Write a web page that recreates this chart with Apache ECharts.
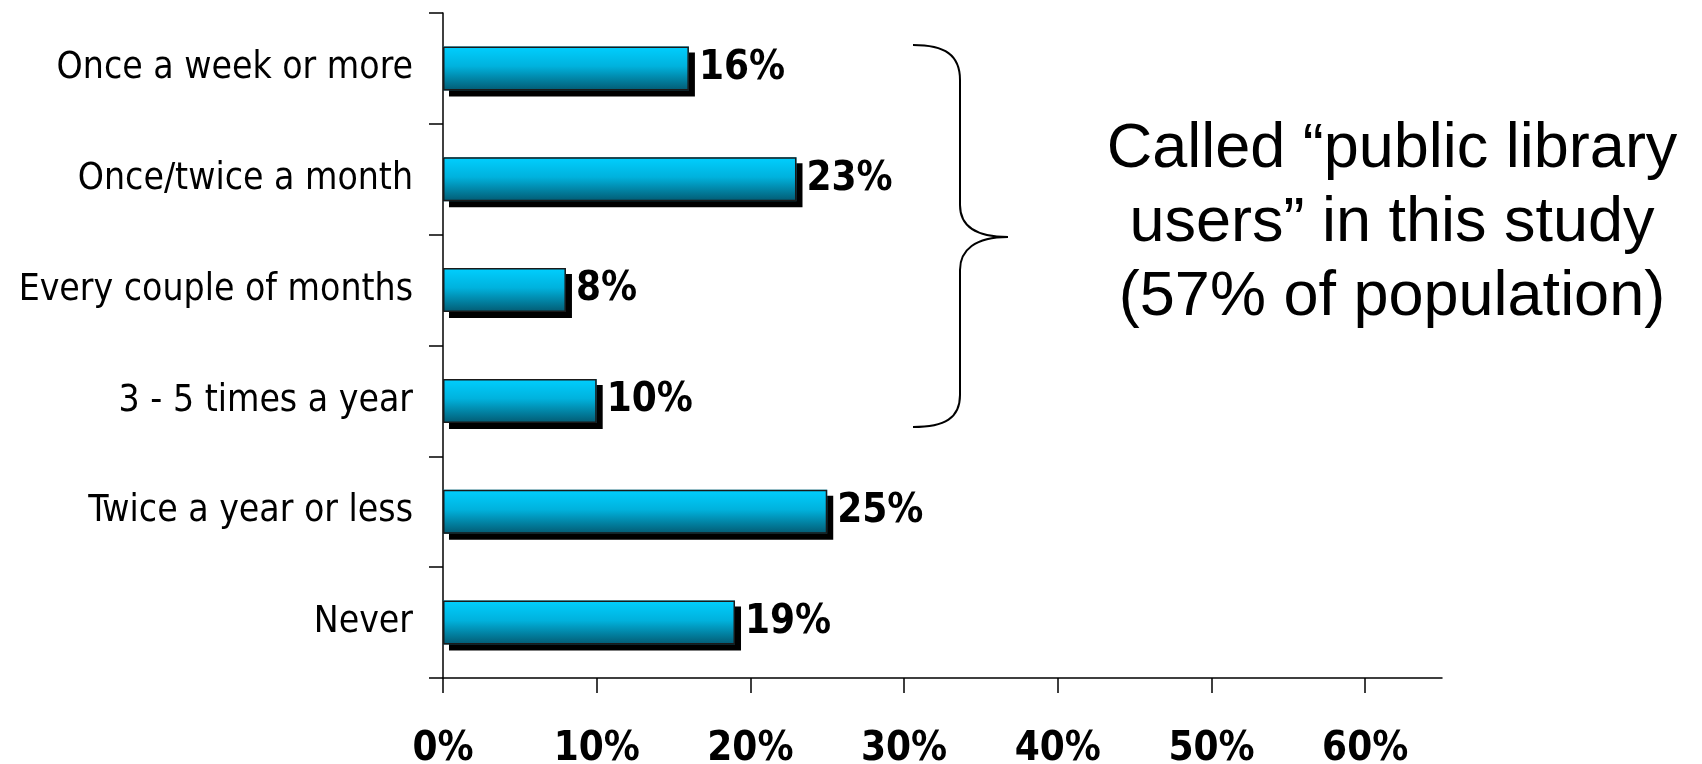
<!DOCTYPE html>
<html>
<head>
<meta charset="utf-8">
<script src="https://cdn.jsdelivr.net/npm/echarts@6/dist/echarts.min.js"></script>
<style>
  html, body { margin: 0; padding: 0; background: #fff; }
  #chart { width: 1702px; height: 764px; }
</style>
</head>
<body>
<div id="chart"></div>
<script>
// data
var categories = ['Once a week or more', 'Once/twice a month', 'Every couple of months',
                  '3 - 5 times a year', 'Twice a year or less', 'Never'];
var shares = [16, 23, 8, 10, 25, 19];
var xTicks = [0, 10, 20, 30, 40, 50, 60];
var noteLines = ['Called \u201cpublic library', 'users\u201d in this study', '(57% of population)'];

var narrow = '"Liberation Sans Narrow", "DejaVu Sans Condensed", "Liberation Sans", sans-serif';

var chart = echarts.init(document.getElementById('chart'));

// curly brace next to the first four bars
var braceStyle = { fill: 'none', stroke: '#000', lineWidth: 2 };
function curve(x1, y1, cx1, cy1, cx2, cy2, x2, y2) {
  return { type: 'bezierCurve', shape: { x1: x1, y1: y1, cpx1: cx1, cpy1: cy1, cpx2: cx2, cpy2: cy2, x2: x2, y2: y2 }, style: braceStyle };
}
function seg(x1, y1, x2, y2) {
  return { type: 'line', shape: { x1: x1, y1: y1, x2: x2, y2: y2 }, style: braceStyle };
}
var brace = [
  curve(913, 45, 945, 45, 960, 55, 960, 80),
  seg(960, 80, 960, 205),
  curve(960, 205, 960, 225, 975, 237, 1008, 237),
  curve(1008, 237, 975, 237, 960, 250, 960, 270),
  seg(960, 270, 960, 395),
  curve(960, 395, 960, 418, 945, 427, 913, 427)
];

var option = {
  animation: false,
  grid: { left: 443, right: 260, top: 13, bottom: 86, containLabel: false, outerBoundsMode: 'none' },
  xAxis: {
    type: 'value',
    min: 0,
    max: 65,
    interval: 10,
    splitLine: { show: false },
    axisLine: { show: true, lineStyle: { color: '#000', width: 1.5 } },
    axisTick: { show: true, length: 15, customValues: xTicks, lineStyle: { color: '#000', width: 1.5 } },
    axisLabel: {
      customValues: xTicks,
      formatter: '{value}%',
      margin: 52,
      color: '#000',
      fontFamily: narrow,
      fontWeight: 'bold',
      fontSize: 40
    }
  },
  yAxis: {
    type: 'category',
    inverse: true,
    data: categories,
    axisLine: { show: true, lineStyle: { color: '#000', width: 1.5 } },
    axisTick: { show: true, length: 14, lineStyle: { color: '#000', width: 1.5 } },
    axisLabel: {
      margin: 30,
      color: '#000',
      fontFamily: narrow,
      fontSize: 37
    }
  },
  series: [
    {
      // gradient fill with the hard drop shadow
      type: 'bar',
      data: shares,
      barWidth: 44,
      itemStyle: {
        color: {
          type: 'linear', x: 0, y: 0, x2: 0, y2: 1,
          colorStops: [
            { offset: 0, color: '#00cfff' },
            { offset: 0.45, color: '#00b2dd' },
            { offset: 1, color: '#035a72' }
          ]
        },
        shadowColor: '#000',
        shadowBlur: 0,
        shadowOffsetX: 6,
        shadowOffsetY: 6
      }
    },
    {
      // outline + value label on top
      type: 'bar',
      data: shares,
      barWidth: 44,
      barGap: '-100%',
      itemStyle: {
        color: 'rgba(0,0,0,0)',
        borderColor: '#1a1a1a',
        borderWidth: 1.5
      },
      label: {
        show: true,
        position: 'right',
        distance: 10,
        formatter: '{c}%',
        color: '#000',
        fontFamily: narrow,
        fontWeight: 'bold',
        fontSize: 40
      }
    }
  ],
  graphic: brace.concat([
    {
      type: 'text',
      x: 1392,
      y: 113,
      style: {
        text: noteLines.join('\n'),
        align: 'center',
        fill: '#000',
        font: '63px "Liberation Sans", Arial, sans-serif',
        lineHeight: 74
      }
    }
  ])
};

chart.setOption(option);
</script>
</body>
</html>
